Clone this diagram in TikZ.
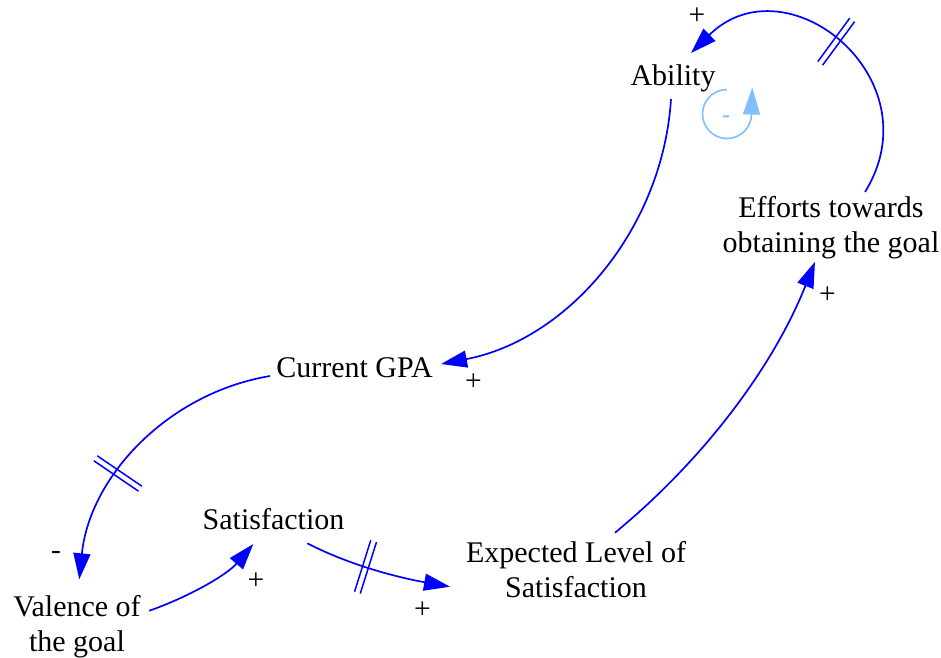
\documentclass[tikz,border=0pt]{standalone}
\usepackage{fontspec}
\setmainfont{Liberation Serif}
\usetikzlibrary{arrows.meta,decorations.markings,calc}
\definecolor{linkblue}{RGB}{0,0,255}
\definecolor{loopblue}{RGB}{128,192,255}
\tikzset{
  lbl/.style={inner sep=0pt, font=\fontsize{30}{35}\selectfont, align=center, text=black},
  sgn/.style={inner sep=0pt, font=\fontsize{29.5}{35}\selectfont, text=black},
  link/.style={draw=linkblue, line width=1.7pt, -{Triangle[length=26pt,width=17pt]}},
  delaymark/.style={postaction={decorate}, decoration={markings,
      mark=at position #1 with {\draw[draw=linkblue, line width=1.5pt, -] (-3pt,-27pt) -- (-3pt,27pt) (3pt,-27pt) -- (3pt,27pt);}}},
  loopline/.style={draw=loopblue, line width=1.6pt, -{Triangle[length=27pt,width=17pt]}}
}
\begin{document}
\begin{tikzpicture}[x=1pt,y=-1pt]
\useasboundingbox[fill=white] (0,0) rectangle (941,657);

% variables
\node[lbl, anchor=base]  (ab)  at (673,85)    {Ability};
\node[lbl, anchor=north] (eff) at (831,196.5) {Efforts towards\\obtaining the goal};
\node[lbl, anchor=base]  (gpa) at (354.5,377) {Current GPA};
\node[lbl, anchor=base]  (sat) at (273.5,529) {Satisfaction};
\node[lbl, anchor=north] (exp) at (576,541.5) {Expected Level of\\Satisfaction};
\node[lbl, anchor=north] (val) at (77,595)    {Valence of\\the goal};

% polarity signs
\node[sgn] (s1) at (697,16)    {+};
\node[sgn] (s2) at (473.5,382) {+};
\node[sgn] (s3) at (56,555)    {-};
\node[sgn] (s4) at (256,581)   {+};
\node[sgn] (s5) at (422.5,610) {+};
\node[sgn] (s6) at (827.5,295) {+};

% loop symbol
\coordinate (loopc) at (727,114);
\node[inner sep=0pt, text=loopblue, font=\fontsize{24}{24}\selectfont\bfseries] (looplbl) at (726,119) {-};
\draw[loopline] ($(loopc)+(0,-24.5)$) arc[start angle=-90, end angle=-360, radius=24.5] -- ++(0.8,-26.5);

% links
\draw[link, delaymark=0.515] ($(eff.north)+(34,-4.5)$) .. controls (935.3,78.2) and (786.3,-41) .. ($(ab.base)+(18,-32)$);
\draw[link] ($(ab.base)+(-2,14)$) .. controls (662.8,228.6) and (568.6,339.4) .. ($(gpa.base)+(86.5,-13)$);
\draw[link, delaymark=0.62] ($(gpa.base)+(-84.5,-1)$) .. controls (168.1,393) and (89.7,476.5) .. ($(val.north)+(2.3,-15.7)$);
\draw[link] ($(val.north)+(72.3,15.7)$) .. controls (187.8,597.2) and (226.6,575.2) .. ($(sat.base)+(-20.2,15)$);
\draw[link, delaymark=0.42] ($(sat.base)+(33.8,14.3)$) .. controls (351.8,566.2) and (400.8,578) .. ($(exp.north)+(-126,45.2)$);
\draw[link] ($(exp.north)+(39,-8.8)$) .. controls (703,460.2) and (772.9,367.6) .. ($(eff.north)+(-16,65.2)$);
\end{tikzpicture}
\end{document}
